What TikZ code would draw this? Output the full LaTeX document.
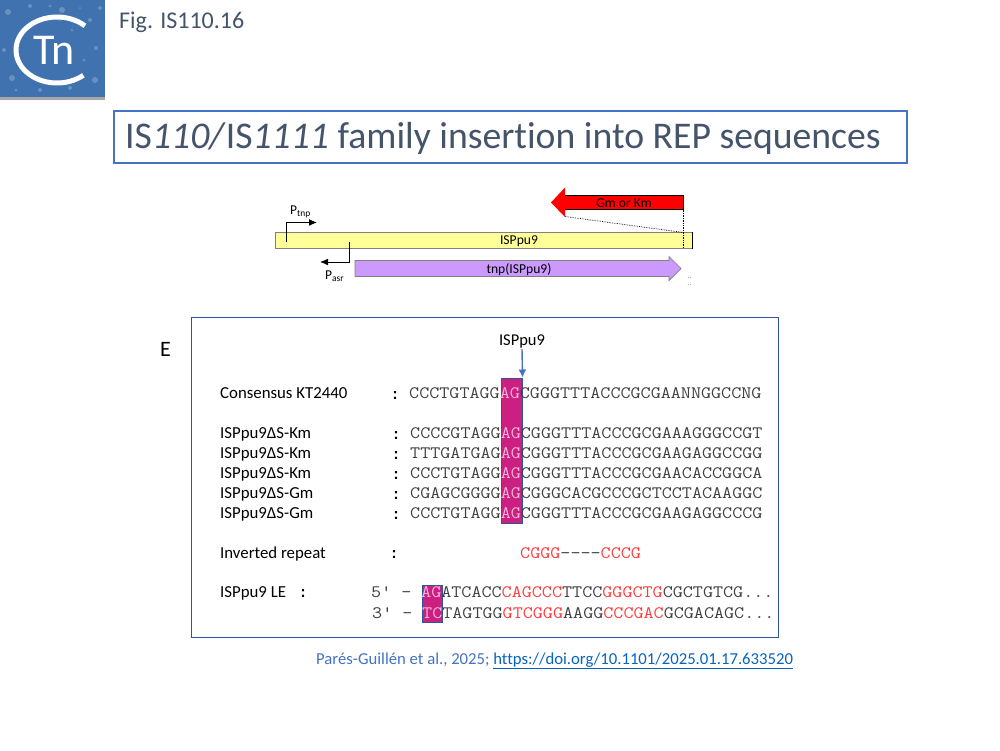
\documentclass[tikz,border=0pt]{standalone}
\usepackage{fontspec}
\usetikzlibrary{arrows.meta}
\setmainfont[Ligatures=NoCommon]{Carlito}
\newfontfamily\seqfont[FakeStretch=1.12]{Latin Modern Mono}
\newfontfamily\colonfont{Liberation Mono}
\definecolor{slate}{HTML}{44546A}
\definecolor{framebl}{HTML}{4472C4}
\definecolor{panelbl}{HTML}{2F5597}
\definecolor{logobl}{HTML}{3F72AE}
\definecolor{magbox}{HTML}{CC1F82}
\definecolor{agtxt}{HTML}{F2B5D8}
\definecolor{seqgr}{HTML}{404040}
\definecolor{seqrd}{HTML}{FF3B3B}
\definecolor{barye}{HTML}{FFFF99}
\definecolor{barpu}{HTML}{CC99FF}
\definecolor{linkbl}{HTML}{0563C1}
\tikzset{
  lbl/.style={anchor=base west, inner sep=0pt, font=\fontsize{16.8}{19}\selectfont, text=black},
  seq/.style={anchor=base west, inner sep=0pt, font=\seqfont\fontsize{17.45}{20}\selectfont, text=seqgr},
  colon/.style={anchor=base, inner sep=0pt, font=\colonfont\bfseries\fontsize{15}{18}\selectfont, text=black},
  magrect/.style={draw=panelbl, fill=magbox, line width=1pt},
  small/.style={anchor=center, inner sep=0pt, font=\fontsize{13.6}{15}\selectfont, text=black},
  promo/.style={-{Latex[length=8pt,width=7pt]}, black, line width=1pt},
}
\newcommand{\ag}[1]{\textcolor{agtxt}{#1}}
\newcommand{\rd}[1]{\textcolor{seqrd}{#1}}
\begin{document}
\begin{tikzpicture}[x=1pt,y=-1pt]
\useasboundingbox (0,0) rectangle (1000,750);
% logo
\fill[gray!70] (0,97) rectangle (105,100);
\fill[logobl] (0,0) rectangle (105,97);
\foreach \dx/\dy/\dr in {8/12/3,30/6/2,62/10/3,90/20/2,96/48/2,12/78/3,40/90/2,70/88/2,95/80/3,22/30/1.5,72/30/1.5,60/20/1,4/50/2,84/60/1.5,16/90/1.5,50/6/1.5,100/8/2,80/8/1}{
  \fill[white, opacity=.22] (\dx,\dy) circle[radius=\dr];
}
\draw[white, line width=5pt] (57,50) ++(-47:41 and 33) arc[start angle=-47, end angle=-310, x radius=41, y radius=33];
\node[inner sep=0pt, text=white, font=\fontsize{44}{46}\selectfont] (logotn) at (54,50) {Tn};
\node[anchor=base west, inner sep=0pt, text=slate, font=\fontsize{24}{26}\selectfont] (figno) at (119,28) {Fig. IS110.16};
% title
\node[draw=framebl, line width=1.2pt, minimum width=793, minimum height=52, inner sep=0pt] (titlebox) at (510.5,137) {};
\node[anchor=base west, inner sep=0pt, text=slate, font=\fontsize{37.7}{40}\selectfont] (title) at (125,148) {IS\textit{110/}IS\textit{1111} family insertion into REP sequences};
% map
\fill[red] (551,202.5) -- (565,187.5) -- (565,195) -- (683.5,195) -- (683.5,209.5) -- (565,209.5) -- (565,217) -- cycle;
\draw[black, line width=.7pt] (565,195) -- (683.5,195) -- (683.5,209.5) -- (565,209.5);
\node[small] (gmkm) at (624,203) {Gm or Km};
\node[draw=gray, fill=barye, line width=.7pt, minimum width=417, minimum height=15.5, inner sep=0pt] (ispbar) at (483.5,240.5) {};
\draw[black, line width=.8pt] (ispbar.north east) -- (ispbar.south east);
\node[small] (isplbl) at (519,241) {ISPpu9};
\coordinate (redtl) at (565,216.5);
\coordinate (redtr) at (683.5,209.5);
\coordinate (barbt) at (683.5,248);
\coordinate (bartp) at (683.5,232.5);
\draw[black, line width=.7pt, densely dotted] (redtl) -- (bartp);
\draw[black, line width=.7pt, densely dotted] (redtr) -- (barbt);
\fill[barpu, draw=gray, line width=.7pt] (355,260.5) -- (669,260.5) -- (669,256.5) -- (681,268.5) -- (669,280.5) -- (669,276.5) -- (355,276.5) -- cycle;
\node[small] (tnplbl) at (519,270) {tnp(ISPpu9)};
\coordinate (ptnpa) at (286.5,242);
\coordinate (ptnpb) at (317,222.5);
\coordinate (pasra) at (349,242);
\coordinate (pasrb) at (320,262);
\draw[promo] (ptnpa) |- (ptnpb);
\draw[promo] (pasra) |- (pasrb);
\node[anchor=base west, inner sep=0pt, font=\fontsize{13.5}{15}\selectfont] (ptnp) at (290,214) {P\textsubscript{tnp}};
\node[anchor=base west, inner sep=0pt, font=\fontsize{13.5}{15}\selectfont] (pasr) at (325,279) {P\textsubscript{asr}};
\draw[gray!60, densely dotted, line width=.6pt] (688,277) -- (690,277);
\draw[gray!60, densely dotted, line width=.6pt] (688,284) -- (690,284);
% panel E
\node[anchor=base west, inner sep=0pt, font=\fontsize{22}{24}\selectfont] (panelE) at (160,356) {E};
\node[draw=panelbl, line width=1pt, minimum width=587, minimum height=319.5, inner sep=0pt] (panel) at (485,477.25) {};
\node[magrect, minimum width=21, minimum height=145, inner sep=0pt] (agcol) at (511.5,450.5) {};
\node[magrect, minimum width=20, minimum height=37, inner sep=0pt] (agend) at (432,603.5) {};
\node[anchor=base, inner sep=0pt, font=\fontsize{16.5}{18}\selectfont] (insert) at (522,345) {ISPpu9};
\coordinate (insfoot) at (522,349);
\draw[-{Latex[length=8pt,width=8pt]}, framebl, line width=1.4pt] (insfoot) -- (agcol.north east);
% rows
\node[lbl] (r0) at (220,398) {Consensus KT2440};
\node[colon] (c0) at (395,399) {:};
\node[seq] (s0) at (409,398) {CCCTGTAGG\ag{AG}CGGGTTTACCCGCGAANNGGCCNG};
\node[lbl] (r1) at (220,438) {ISPpu9ΔS-Km};
\node[colon] (c1) at (396,439) {:};
\node[seq] (s1) at (410,438) {CCCCGTAGG\ag{AG}CGGGTTTACCCGCGAAAGGGCCGT};
\node[lbl] (r2) at (220,458) {ISPpu9ΔS-Km};
\node[colon] (c2) at (396,459) {:};
\node[seq] (s2) at (410,458) {TTTGATGAG\ag{AG}CGGGTTTACCCGCGAAGAGGCCGG};
\node[lbl] (r3) at (220,478) {ISPpu9ΔS-Km};
\node[colon] (c3) at (396,479) {:};
\node[seq] (s3) at (410,478) {CCCTGTAGG\ag{AG}CGGGTTTACCCGCGAACACCGGCA};
\node[lbl] (r4) at (220,498) {ISPpu9ΔS-Gm};
\node[colon] (c4) at (396,499) {:};
\node[seq] (s4) at (410,498) {CGAGCGGGG\ag{AG}CGGGCACGCCCGCTCCTACAAGGC};
\node[lbl] (r5) at (220,518) {ISPpu9ΔS-Gm};
\node[colon] (c5) at (396,519) {:};
\node[seq] (s5) at (410,518) {CCCTGTAGG\ag{AG}CGGGTTTACCCGCGAAGAGGCCCG};
\node[lbl] (r6) at (220,558) {Inverted repeat};
\node[colon] (c6) at (394,558) {:};
\node[seq] (s6) at (520,558) {\rd{CGGG}----\rd{CCCG}};
\node[lbl] (r7) at (220,597) {ISPpu9 LE};
\node[colon] (c7) at (303,597) {:};
\node[seq] (p7) at (371,597) {5' -};
\node[seq] (s7) at (421,597) {\ag{AG}ATCACC\rd{CAGCCC}TTCC\rd{GGGCTG}CGCTGTCG...};
\node[seq] (p8) at (372,618) {3' -};
\node[seq] (s8) at (422,618) {\ag{TC}TAGTGG\rd{GTCGGG}AAGG\rd{CCCGAC}GCGACAGC...};
% citation
\node[anchor=base west, inner sep=0pt, font=\fontsize{16.7}{19}\selectfont, text=framebl] (cite) at (316,664) {Parés-Guillén et al., 2025; \textcolor{linkbl}{\underline{https://doi.org/10.1101/2025.01.17.633520}}};
\end{tikzpicture}
\end{document}
